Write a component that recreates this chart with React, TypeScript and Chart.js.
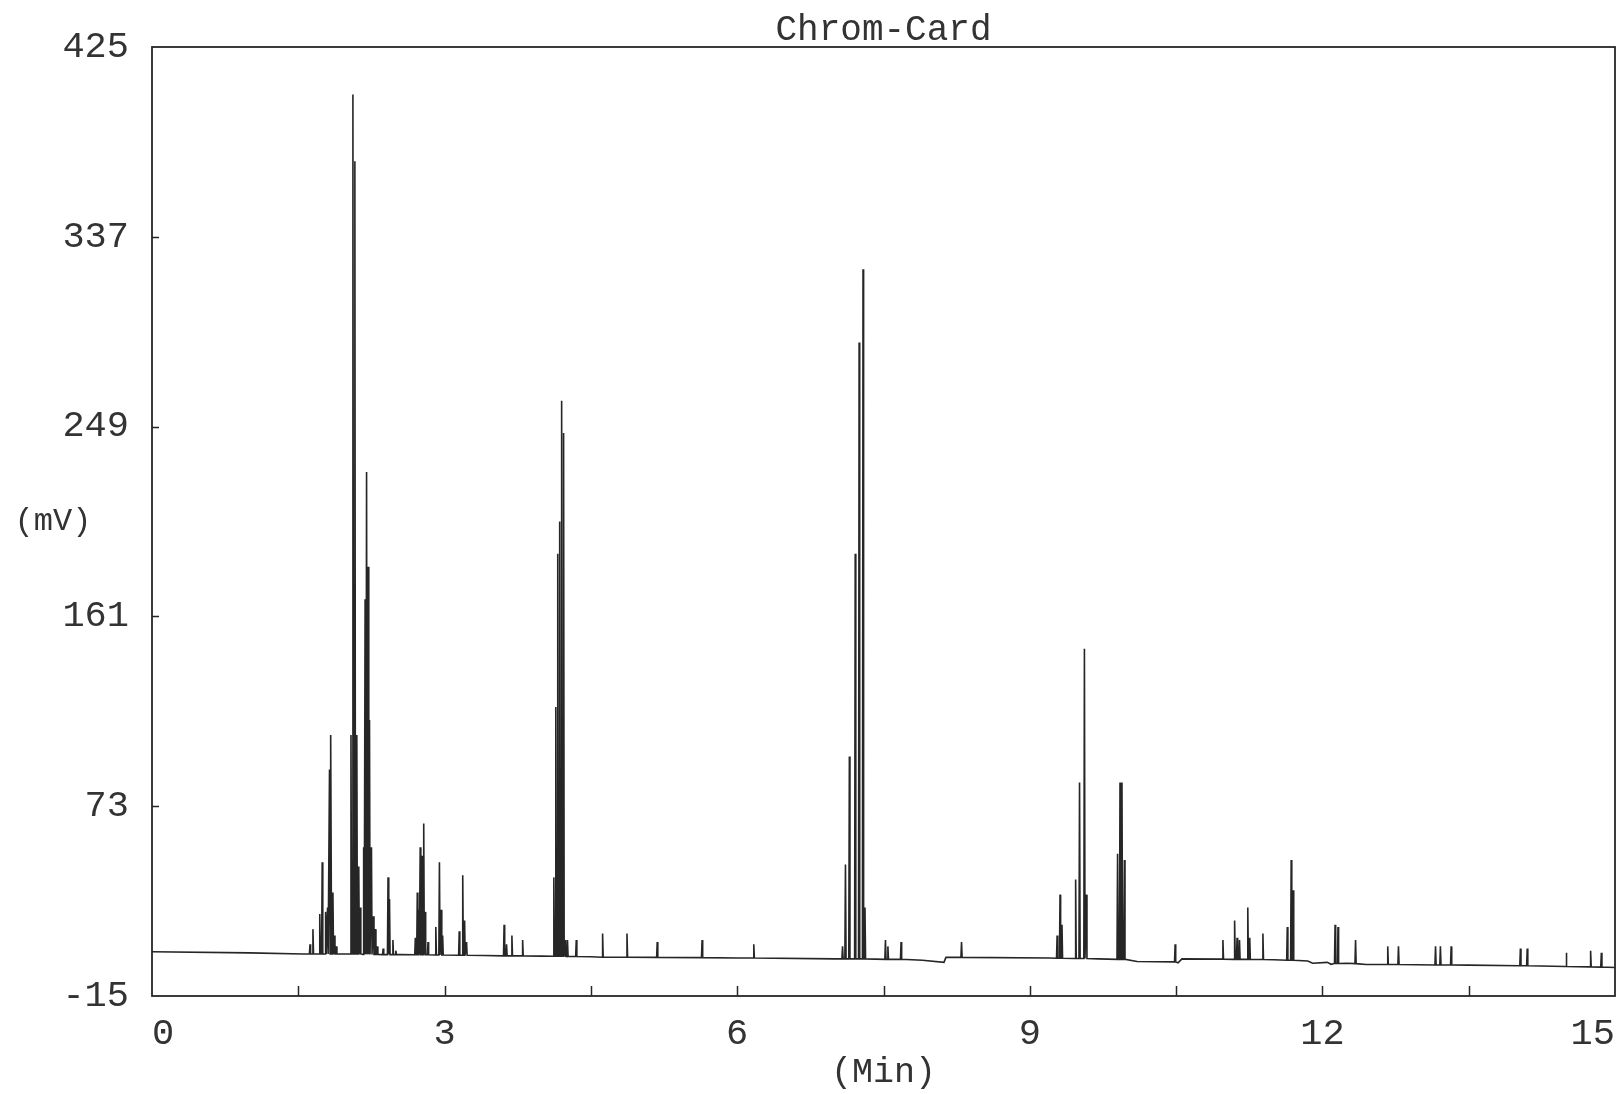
import React, { useEffect, useRef } from 'react';
import { Chart, registerables } from 'chart.js';

Chart.register(...registerables);

const chartTitle = 'Chrom-Card';
const xAxisTitle = '(Min)';
const yAxisTitle = '(mV)';
const xTickValues = [0, 1.5, 3, 4.5, 6, 7.5, 9, 10.5, 12, 13.5, 15];
const xTickLabels = ['0', '', '3', '', '6', '', '9', '', '12', '', '15'];
const yTickValues = [-15, 73, 161, 249, 337, 425];

// detector baseline (time in min, signal in mV)
const baselineTime = [0, 1.0, 1.55, 2.55, 3.4, 4.0, 4.5, 6.0, 7.0, 7.9, 8.12, 8.14, 9.2, 9.7, 10.1, 10.52, 10.56, 11.5, 11.85, 11.9, 12.05, 12.09, 12.25, 12.45, 13.5, 14.5, 15];
const baselineMv = [5.5, 5, 4.5, 4.2, 3.8, 3.5, 3.2, 2.6, 2.2, 1.6, 0.6, 2.9, 2.6, 2.2, 1.0, 0.4, 2.2, 1.8, 1.2, 0.2, 0.6, -0.3, 0.2, -0.4, -0.7, -1.3, -1.8];

// peaks: retention time (min), apex (mV), local base (mV)
const peakTime = [
  1.62, 1.65, 1.72, 1.745, 1.78, 1.8, 1.82, 1.835, 1.855, 1.87, 1.89,
  2.04, 2.06, 2.08, 2.1, 2.12, 2.135,
  2.17, 2.185, 2.2, 2.215, 2.23, 2.25, 2.27, 2.29, 2.31,
  2.37, 2.42, 2.435, 2.47, 2.5,
  2.7, 2.72, 2.735, 2.75, 2.77, 2.786, 2.8, 2.83,
  2.91, 2.947, 2.965, 2.98,
  3.15, 3.186, 3.205, 3.225,
  3.61, 3.635, 3.69, 3.8,
  4.12, 4.14, 4.16, 4.18, 4.2, 4.22, 4.235,
  4.26, 4.35, 4.62, 4.87, 5.18, 5.64, 6.17,
  7.08, 7.11, 7.15, 7.21, 7.25, 7.29, 7.31,
  7.52, 7.545, 7.68, 8.3,
  9.28, 9.31, 9.33, 9.47, 9.51, 9.56, 9.58,
  9.9, 9.925, 9.945, 9.97,
  10.49, 10.98, 11.1, 11.125, 11.15, 11.235, 11.255, 11.39,
  11.64, 11.68, 11.7,
  12.13, 12.16, 12.34, 12.67, 12.78, 13.16, 13.21, 13.32,
  14.03, 14.1, 14.5, 14.75, 14.86,
];
const peakTop = [
  9, 16, 23, 47, 24, 26, 90, 106, 33, 13, 8,
  106, 403, 372, 106, 45, 26,
  54, 169, 228, 184, 113, 54, 22, 16, 8,
  7, 40, 30, 11, 6,
  12, 33, 25, 54, 50, 65, 24, 10,
  17, 47, 25, 13,
  15, 41, 20, 10,
  18, 9, 13, 11,
  40, 119, 190, 205, 261, 246, 11,
  11, 11, 14, 14, 10, 11, 9,
  8, 46, 96, 190, 288, 322, 26,
  11, 8, 10, 10,
  13, 32, 18, 39, 84, 146, 32,
  51, 84, 84, 48,
  9, 11, 20, 12, 11, 26, 12, 14,
  17, 48, 34,
  18, 17, 11, 8, 8, 8, 8, 8,
  7, 7, 5, 6, 5,
];
const peakBase = [
  4.5, 4.5, 4.5, 4.5, 4.5, 4.5, 4.5, 4.5, 4.5, 4.5, 4.5,
  4.5, 4.5, 4.5, 4.5, 4.5, 4.5,
  4.3, 4.3, 4.3, 4.3, 4.3, 4.3, 4.3, 4.3, 4.3,
  4.2, 4.2, 4.2, 4.2, 4.2,
  4.1, 4.1, 4.1, 4.1, 4.1, 4.1, 4.1, 4.1,
  4.0, 4.0, 4.0, 4.0,
  3.9, 3.9, 3.9, 3.9,
  3.6, 3.6, 3.6, 3.6,
  3.4, 3.4, 3.4, 3.4, 3.4, 3.4, 3.4,
  3.3, 3.3, 3.0, 3.0, 2.9, 2.8, 2.6,
  2.2, 2.2, 2.2, 2.2, 2.2, 2.2, 2.2,
  2.0, 2.0, 2.0, 2.9,
  2.5, 2.5, 2.5, 2.4, 2.4, 2.4, 2.4,
  2.0, 2.0, 2.0, 2.0,
  0.8, 2.1, 2.0, 2.0, 2.0, 2.0, 2.0, 1.9,
  1.6, 1.6, 1.6,
  0.1, 0.1, 0.0, -0.4, -0.4, -0.6, -0.6, -0.6,
  -1.0, -1.0, -1.3, -1.5, -1.6,
];

const FONT = '"Liberation Mono", "DejaVu Sans Mono", monospace';
const INK = '#262626';
const TEXT = '#333333';
const SPIKE_HALF = 0.006;

function buildTrace() {
  const pts: { x: number; y: number }[] = [];
  baselineTime.forEach((t, i) => pts.push({ x: t, y: baselineMv[i] }));
  peakTime.forEach((t, i) => {
    pts.push({ x: t - SPIKE_HALF, y: peakBase[i] });
    pts.push({ x: t, y: peakTop[i] });
    pts.push({ x: t + SPIKE_HALF, y: peakBase[i] });
  });
  pts.sort((a, b) => a.x - b.x);
  return pts;
}

const framePlugin = {
  id: 'chromFrame',
  afterDraw(chart: any) {
    const { ctx, chartArea: a, scales } = chart;
    ctx.save();
    ctx.strokeStyle = INK;
    ctx.lineWidth = 1.8;
    ctx.strokeRect(a.left, a.top, a.right - a.left, a.bottom - a.top);
    ctx.lineWidth = 1.5;
    const xs = scales.x;
    xs.ticks.forEach((t: any) => {
      if (t.value <= xs.min || t.value >= xs.max) return;
      const px = Math.round(xs.getPixelForValue(t.value)) + 0.5;
      ctx.beginPath();
      ctx.moveTo(px, a.bottom);
      ctx.lineTo(px, a.bottom - 10);
      ctx.stroke();
    });
    const ys = scales.y;
    ys.ticks.forEach((t: any) => {
      if (t.value <= ys.min || t.value >= ys.max) return;
      const py = Math.round(ys.getPixelForValue(t.value)) + 0.5;
      ctx.beginPath();
      ctx.moveTo(a.left, py);
      ctx.lineTo(a.left + 7, py);
      ctx.stroke();
    });
    ctx.fillStyle = TEXT;
    ctx.font = `32px ${FONT}`;
    ctx.textAlign = 'center';
    ctx.textBaseline = 'middle';
    ctx.fillText(yAxisTitle, 53, (a.top + a.bottom) / 2);
    ctx.restore();
  },
};

export default function App() {
  const ref = useRef<HTMLCanvasElement>(null);
  useEffect(() => {
    const chart = new Chart(ref.current as HTMLCanvasElement, {
      type: 'line',
      data: {
        datasets: [
          {
            label: 'signal',
            data: buildTrace(),
            borderColor: INK,
            borderWidth: 1.6,
            pointRadius: 0,
            tension: 0,
            fill: false,
          },
        ],
      },
      options: {
        responsive: false,
        animation: false,
        events: [],
        layout: { padding: { left: 0, right: 5, top: 0, bottom: 0 }, autoPadding: false },
        plugins: {
          legend: { display: false },
          tooltip: { enabled: false },
          title: {
            display: true,
            text: chartTitle,
            fullSize: false,
            color: TEXT,
            font: { family: FONT, size: 36, lineHeight: 0.9, weight: 'normal' },
            padding: { top: 14.6, bottom: 0 },
          },
        },
        scales: {
          x: {
            type: 'linear',
            min: 0,
            max: 15,
            grid: { display: false },
            border: { display: false },
            afterBuildTicks: (scale: any) => {
              scale.ticks = xTickValues.map((v) => ({ value: v }));
            },
            afterFit: (scale: any) => {
              scale.height = 98;
            },
            ticks: {
              autoSkip: false,
              maxRotation: 0,
              minRotation: 0,
              align: 'inner',
              padding: 8,
              color: TEXT,
              font: { family: FONT, size: 37, lineHeight: 1.2 },
              callback: (_v: any, i: number) => xTickLabels[i],
            },
            title: {
              display: true,
              text: xAxisTitle,
              color: TEXT,
              font: { family: FONT, size: 35, lineHeight: 1.2 },
              padding: { top: 0, bottom: 0 },
            },
          },
          y: {
            type: 'linear',
            min: -15,
            max: 425,
            grid: { display: false },
            border: { display: false },
            afterBuildTicks: (scale: any) => {
              scale.ticks = yTickValues.map((v) => ({ value: v }));
            },
            afterFit: (scale: any) => {
              scale.width = 152;
            },
            ticks: {
              autoSkip: false,
              padding: 15,
              color: TEXT,
              font: { family: FONT, size: 37, lineHeight: 1.2 },
              callback: (v: any) => String(v),
            },
          },
        },
      } as any,
      plugins: [framePlugin],
    });
    return () => chart.destroy();
  }, []);
  return (
    <div style={{ position: 'absolute', left: 0, top: 0, width: 1623, height: 1094, background: '#fff' }}>
      <canvas ref={ref} width={1623} height={1094} style={{ display: 'block' }} />
    </div>
  );
}
